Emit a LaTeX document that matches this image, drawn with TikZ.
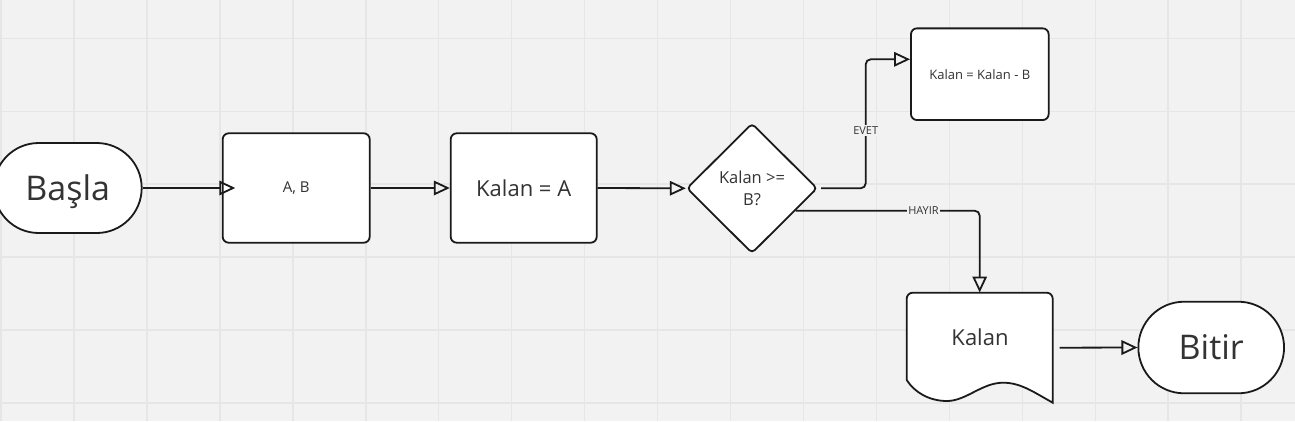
\documentclass[tikz,border=0pt]{standalone}
\usepackage{fontspec}
\setmainfont{Open Sans}
\usetikzlibrary{arrows.meta,shapes.geometric,shapes.misc,calc}
\definecolor{bg}{HTML}{F2F2F2}
\definecolor{gridc}{HTML}{E6E6E6}
\definecolor{txt}{HTML}{333333}
\definecolor{edge}{HTML}{1A1A1A}
\begin{document}
\begin{tikzpicture}[x=1pt,y=-1pt,
  shapebox/.style={draw=edge, fill=white, line width=1.8pt, rounded corners=6pt, inner sep=0pt, text=txt},
  term/.style={draw=edge, fill=white, line width=1.8pt, rounded rectangle, inner sep=0pt, text=txt},
  conn/.style={draw=edge, line width=1.8pt, -{Triangle[open,length=16pt,width=14.5pt,line width=1.8pt]}, rounded corners=5pt},
  lbl/.style={fill=bg, inner sep=1.5pt, text=txt, font=\fontsize{11}{13}\selectfont}
]
\useasboundingbox (0,0) rectangle (1295,421);
\clip (0,0) rectangle (1295,421);
\fill[bg] (0,0) rectangle (1295,421);
\foreach \i in {0,...,17} \draw[gridc, line width=1.5pt] (1+72.95*\i,0) -- ++(0,421);
\foreach \j in {0,...,5} \draw[gridc, line width=1.5pt] (0,38.3+72.95*\j) -- ++(1295,0);

\node[term, minimum width=148pt, minimum height=90pt, text depth=0pt, font=\fontsize{34}{40}\selectfont] (basla) at (67.7,188) {Başla};
\node[shapebox, minimum width=147pt, minimum height=109.4pt, font=\fontsize{15}{18}\selectfont] (ab) at (296.2,188) {A, B};
\node[shapebox, minimum width=146pt, minimum height=109.4pt, font=\fontsize{22}{26}\selectfont] (ka) at (523.7,188) {Kalan = A};
\node[diamond, draw=edge, fill=white, line width=1.8pt, rounded corners=4pt, minimum width=130.6pt, minimum height=130pt, aspect=1, inner sep=0pt, align=center, text=txt, font=\fontsize{16.5}{22.3}\selectfont] (dec) at (752,188.3) {Kalan >=\\B?};
\node[shapebox, minimum width=137.7pt, minimum height=91.7pt, font=\fontsize{13}{16}\selectfont] (kkb) at (979.8,74.2) {Kalan = Kalan - B};

% document shape
\node[inner sep=0pt, minimum width=146pt, minimum height=110pt] (doc) at (979.7,347.7) {};
\draw[draw=edge, fill=white, line width=1.8pt]
  (906.7,380) {[rounded corners=6pt] -- (906.7,292.7) -- (1052.7,292.7)} -- (1052.7,402.7)
  .. controls (1032,391) and (1020,382.7) .. (1003,382.7)
  .. controls (982,382.7) and (966,401) .. (947,401)
  .. controls (930,401) and (915,393) .. (906.7,380) -- cycle;
\node[text=txt, font=\fontsize{22}{26}\selectfont] (doctext) at (980,337) {Kalan};

\node[term, minimum width=145.7pt, minimum height=91.6pt, font=\fontsize{34}{40}\selectfont] (bitir) at (1211.2,347.5) {Bitir};

% connectors
\draw[conn] (basla.east) -- ([xshift=13.5pt]ab.west);
\draw[conn] (ab.east) -- (ka.west);
\draw[conn] (ka.east) -- (dec.west);
\coordinate (ev) at (865.7,59.3);
\draw[conn] ([xshift=3pt]dec.east) -| (ev) -- (kkb.west |- ev);
\node[lbl] (evet) at (865.7,130.5) {EVET};
\coordinate (hs) at ($(dec.east)!0.34!(dec.south)$);
\draw[conn] (hs) -- (doc.north |- hs) -- (doc.north);
\node[lbl] (hayir) at (923.5,210.5) {HAYIR};
\draw[conn] ([xshift=6.6pt]doc.east) -- (bitir.west);
\end{tikzpicture}
\end{document}
